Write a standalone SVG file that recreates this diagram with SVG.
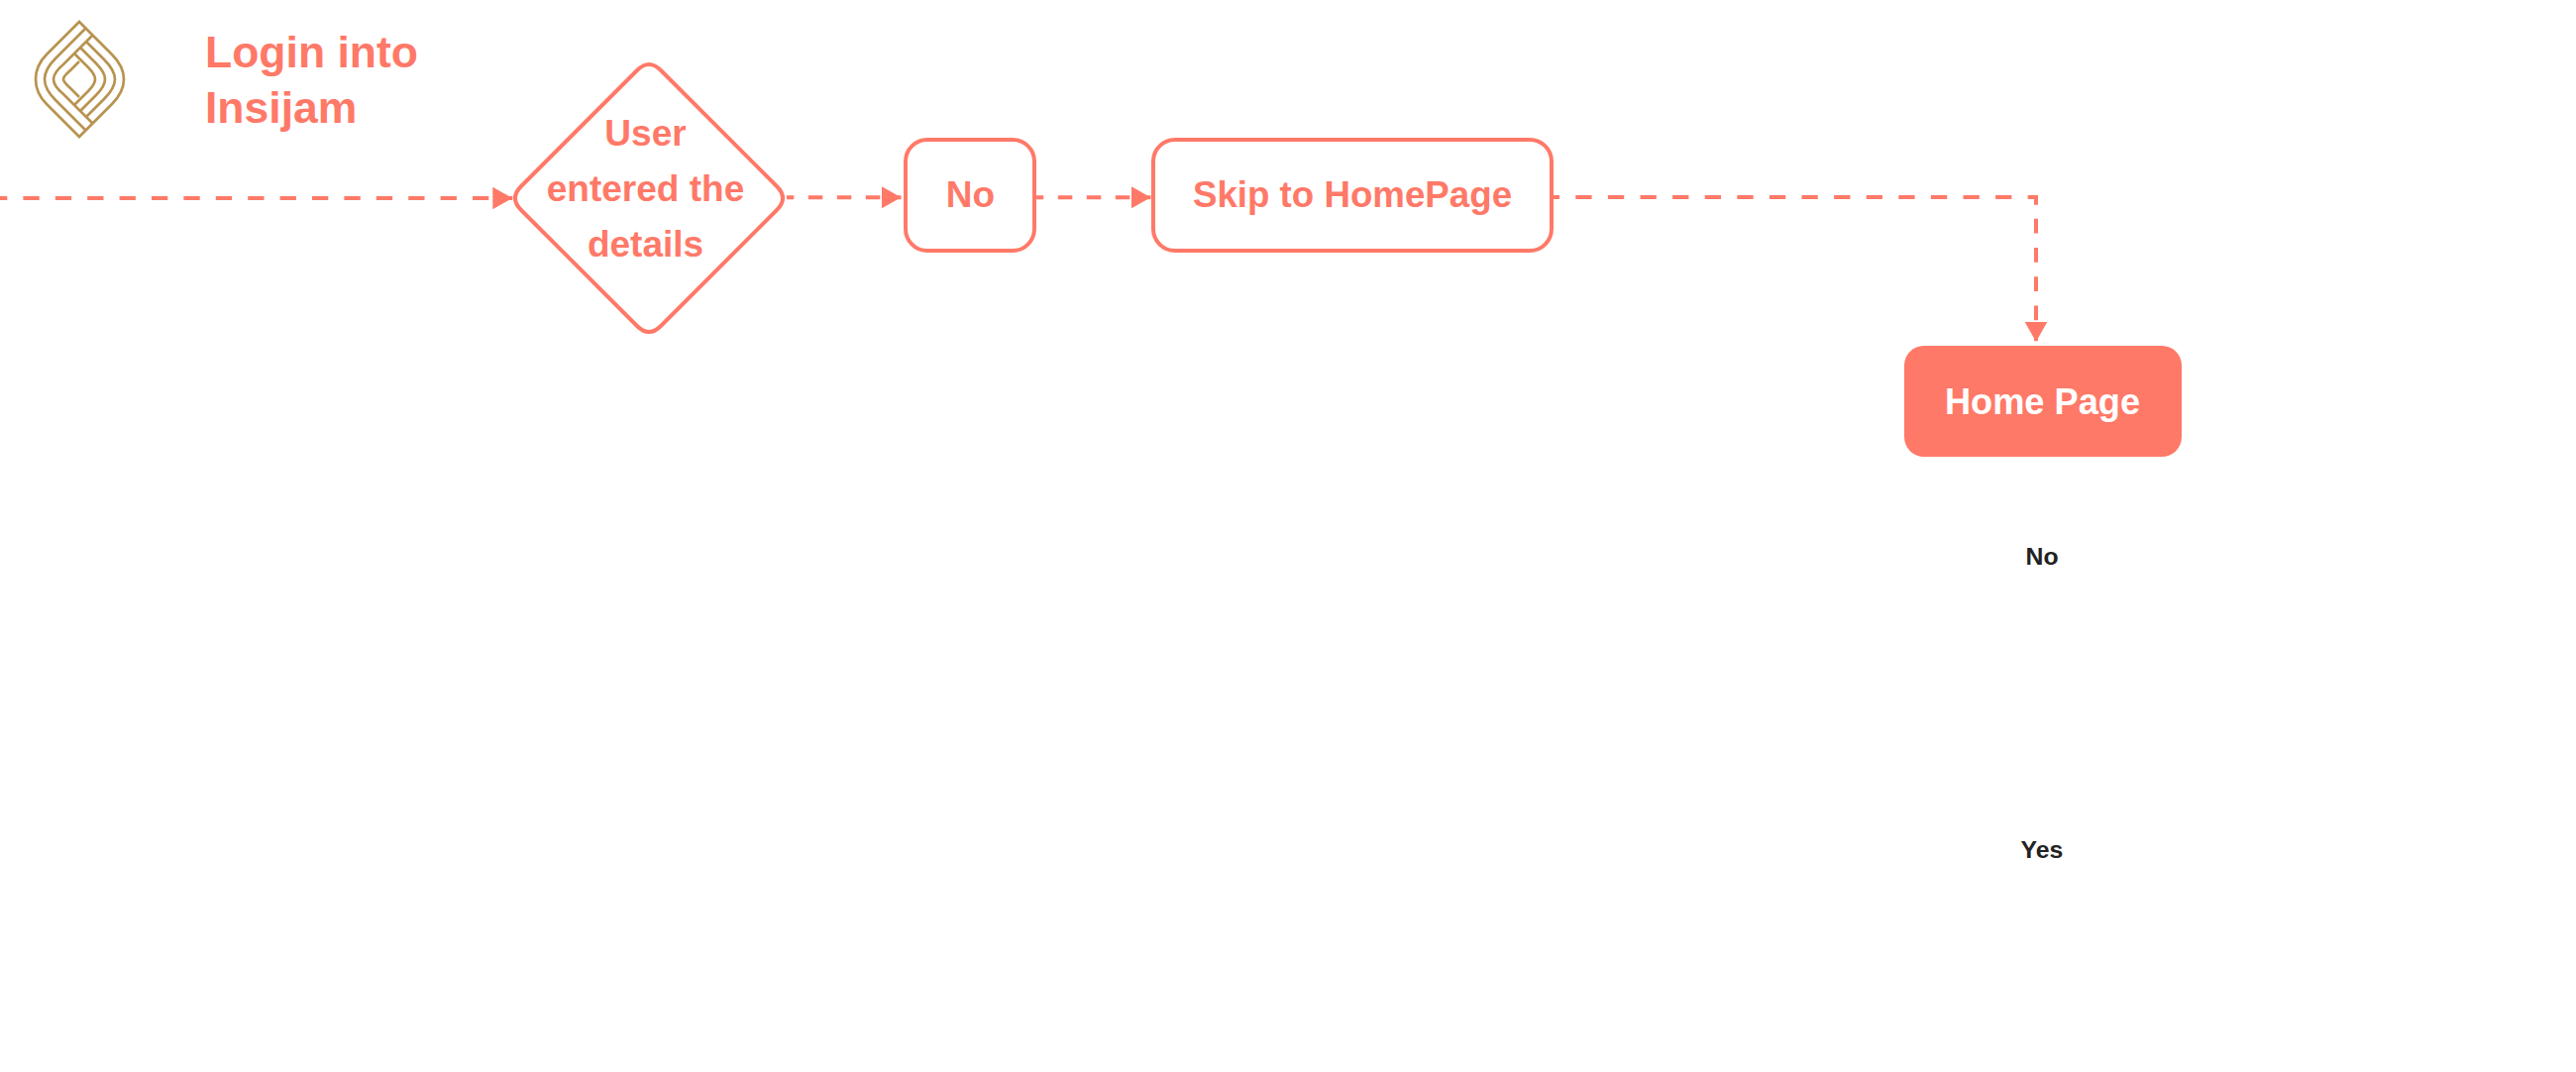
<svg xmlns="http://www.w3.org/2000/svg" width="2600" height="1082" viewBox="0 0 2600 1082">
<style>
text{font-family:"Liberation Sans",Arial,sans-serif;font-weight:700;text-anchor:middle}
.t{fill:#FF7968;font-size:37px}
.h{font-size:44.500px;text-anchor:start}
.s{fill:#fff;stroke:#FF7968;stroke-width:4}
.c{fill:none;stroke:#FF7968;stroke-width:4}
.d1{stroke-dasharray:16.300 16.100;stroke-dashoffset:9}
.d2{stroke-dasharray:14.500 14.500;stroke-dashoffset:7.200}
.d3{stroke-dasharray:6 16.300 16.300 16.300 16.300 16.300 16.300 16.300 16.300 16.300 16.300 16.300 16.300 16.300 16.300 16.300 16.300 16.300 16.300 16.300 16.300 16.300 16.300 16.300 16.300 16.300 16.300 16.300 16.300 16.300 16 14 14.700 14.600 14.700 14.600 14.700 14.600 14.700 14.600}
.l{fill:none;stroke:#B8934F;stroke-width:2.700}
.k{fill:#222;font-size:24.800px}
</style>
<defs><marker id="a" markerUnits="userSpaceOnUse" markerWidth="21" markerHeight="24" refX="20" refY="12" orient="auto"><path d="M0,0.700L20,12L0,23.300Z" fill="#FF7968"/></marker></defs>
<g id="logo">
<path class="l" d="M80,22L113,55C120,62 125,70 125,80C125,90 120,98 113,105L80,138L47,105C40,98 36,90 36,80C36,70 40,62 47,55Z"/>
<path class="l" d="M87,28L56,59C50,65 45,72 45,80C45,88 50,95 56,101L87,132"/>
<path class="l" d="M93,36L64,65C58,70 54,75 54,80C54,85 58,90 64,95L93,124"/>
<path class="l" d="M80,62L71,71C67,75 64,77 64,80C64,83 67,85 71,89L80,98"/>
<path class="l" d="M75,54L89,68C93,72 96,76 96,80C96,84 93,88 89,92L75,106"/>
<path class="l" d="M81,48L97,64C102,69 106,75 106,80C106,85 102,91 97,96L81,112"/>
<path class="l" d="M87,42L105,60C111,66 116,73 116,80C116,87 111,94 105,100L87,118"/>
</g>
<g id="title"><text class="t h" x="207" y="68">Login into</text><text class="t h" x="207" y="124">Insijam</text></g>
<g id="connectors">
<path class="c d1" d="M0,200H517.300" marker-end="url(#a)"/>
<path class="c d2" d="M794,199.300H909.500" marker-end="url(#a)"/>
<path class="c d2" d="M1046,199.300H1161.500" marker-end="url(#a)"/>
<path class="c d3" d="M1568,199H2055V345" marker-end="url(#a)"/>
</g>
<g id="decision"><path class="s" d="M643,71Q655,59 667,71L784,188Q796,200 784,212L667,329Q655,341 643,329L526,212Q514,200 526,188Z"/>
<text class="t" x="651.500" y="147">User</text><text class="t" x="651.500" y="203">entered the</text><text class="t" x="651.500" y="259">details</text></g>
<g id="no"><rect class="s" x="914" y="141" width="130" height="112" rx="22"/><text class="t" x="979.500" y="209">No</text></g>
<g id="skip"><rect class="s" x="1164" y="141" width="402" height="112" rx="22"/><text class="t" x="1365" y="209" style="font-size:36.700px">Skip to HomePage</text></g>
<g id="home"><rect x="1922" y="349" width="280" height="112" rx="20" fill="#FF7968"/><text x="2061.500" y="417.500" fill="#fff" style="font-size:36.200px">Home Page</text></g>
<g id="labels"><text class="k" x="2061" y="570">No</text><text class="k" x="2061" y="866">Yes</text></g>
</svg>
